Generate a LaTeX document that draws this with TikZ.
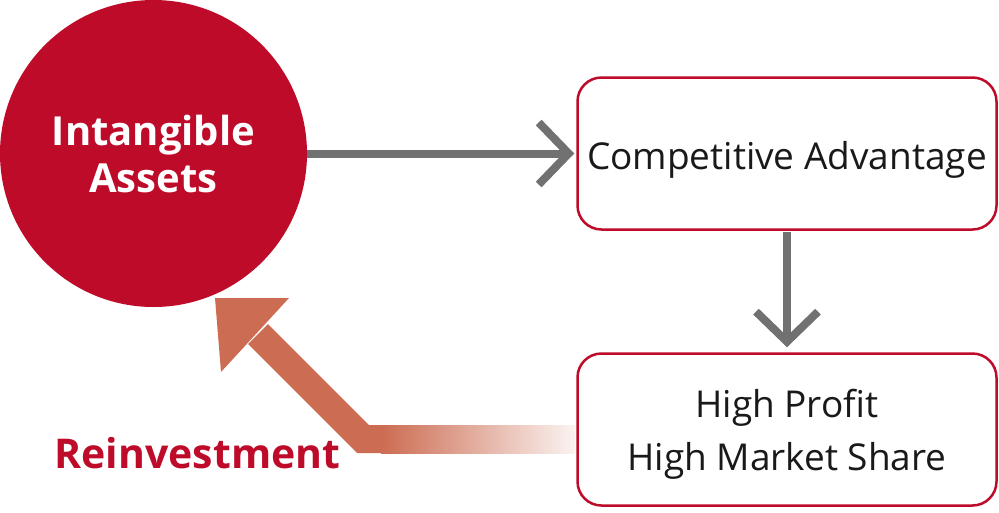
\documentclass[tikz,border=0pt]{standalone}
\usepackage{fontspec}
\setmainfont{Open Sans}
\usetikzlibrary{arrows.meta}
\definecolor{brandred}{HTML}{BD0B29}
\definecolor{arrowgray}{HTML}{717171}
\definecolor{reinv}{HTML}{CC6C52}
\tikzset{
  roundbox/.style={draw=brandred, line width=2.5pt, rounded corners=24pt, fill=white,
    minimum width=419pt, minimum height=152pt, inner sep=0pt, align=center,
    font=\fontsize{37pt}{53pt}\selectfont, text=black!90},
  grayarrow/.style={draw=arrowgray, line width=8pt,
    -{Straight Barb[length=30pt, width=62pt, line width=8pt]}},
}
\begin{document}
\begin{tikzpicture}[x=1pt, y=-1pt]
\useasboundingbox (0,0) rectangle (999,512);
% circle
\node[circle, fill=brandred, minimum size=307pt, inner sep=0pt, align=center,
  text=white, font=\bfseries\fontsize{40pt}{47pt}\selectfont] (ia) at (153.5,153.5)
  {Intangible\\Assets};
% boxes
\node[roundbox] (ca) at (787,153.5) {};
\node[roundbox] (hp) at (787,429.5) {};
\node[roundbox, draw=none, fill=none] (cat) at (787,160) {Competitive Advantage};
\node[roundbox, draw=none, fill=none] (hpt) at (787,434) {High Profit\\High Market Share};
% gray arrows
\draw[grayarrow, shorten >=2pt] (ia.east) -- (ca.west);
\draw[grayarrow, shorten <=1pt, shorten >=5pt] (ca.south) -- (hp.north);
% reinvestment arrow
\coordinate (rc) at (363,439);
\coordinate (rg) at (381,439);
\fill[left color=reinv, right color=reinv!8, shading angle=90] (381,425) rectangle (575,453);
\draw[reinv, line width=28pt, line join=miter] (rg) -- (rc) -- (258,334);
\fill[reinv] (215,298) -- (289,298) -- (221,372) -- cycle;
\node[text=brandred, font=\bfseries\fontsize{41pt}{44pt}\selectfont] (re) at (197.5,453) {Reinvestment};
\end{tikzpicture}
\end{document}
